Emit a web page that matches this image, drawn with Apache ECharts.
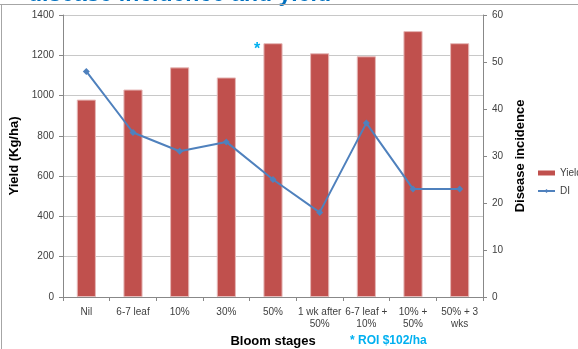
<!DOCTYPE html>
<html><head><meta charset="utf-8">
<script src="https://cdn.jsdelivr.net/npm/echarts@6/dist/echarts.min.js"></script>
<style>html,body{margin:0;padding:0;background:#fff}#c{width:578px;height:349px}</style>
</head><body><div id="c"></div>
<script>
const categories = ['Nil', '6-7 leaf', '10%', '30%', '50%', '1 wk after\n50%', '6-7 leaf +\n10%', '10% +\n50%', '50% + 3\nwks'];
const yieldValues = [980, 1030, 1140, 1090, 1260, 1210, 1195, 1320, 1260];
const diValues = [48, 35, 31, 33, 25, 18, 37, 23, 23];
const yieldTicks = [0, 200, 400, 600, 800, 1000, 1200, 1400];
const diTicks = [0, 10, 20, 30, 40, 50, 60];
const starIndex = 4;

const chart = echarts.init(document.getElementById('c'), null, {renderer: 'canvas'});
const font = 'Liberation Sans, Arial, sans-serif';
chart.setOption({
  animation: false,
  textStyle: {fontFamily: font},
  grid: {left: 63, right: 95, top: 15, bottom: 52, containLabel: false, outerBoundsMode: 'none'},
  legend: {
    orient: 'vertical', left: 537, top: 168, padding: 0, itemGap: 8, itemWidth: 17, itemHeight: 5,
    textStyle: {fontSize: 10, color: '#404040'},
    data: [{name: 'Yield', icon: 'rect', itemStyle: {borderWidth: 0}}, {name: 'DI'}]
  },
  xAxis: {
    type: 'category', data: categories,
    name: 'Bloom stages', nameLocation: 'middle', nameGap: 37,
    nameTextStyle: {fontSize: 13, fontWeight: 'bold', color: '#000'},
    axisLine: {lineStyle: {color: '#888', width: 1}},
    axisTick: {show: true, alignWithLabel: false, length: 4, lineStyle: {color: '#888'}},
    axisLabel: {fontSize: 10, color: '#404040', margin: 9, lineHeight: 12, interval: 0}
  },
  yAxis: [{
    type: 'value', min: yieldTicks[0], max: yieldTicks[yieldTicks.length - 1], interval: 200,
    name: 'Yield (Kg/ha)', nameLocation: 'middle', nameGap: 34, nameRotate: 90,
    nameTextStyle: {fontSize: 13, fontWeight: 'bold', color: '#000'},
    axisLine: {show: true, lineStyle: {color: '#888'}},
    axisTick: {show: true, length: 4, lineStyle: {color: '#888'}},
    axisLabel: {fontSize: 10, color: '#404040', margin: 9, formatter: v => String(v)},
    splitLine: {show: true, lineStyle: {color: '#c8c8c8', width: 1}}
  }, {
    type: 'value', min: diTicks[0], max: diTicks[diTicks.length - 1], interval: 10,
    name: 'Disease incidence', nameLocation: 'middle', nameGap: 24, nameRotate: 90,
    nameTextStyle: {fontSize: 13, fontWeight: 'bold', color: '#000'},
    axisLine: {show: true, lineStyle: {color: '#888'}},
    axisTick: {show: true, length: 4, lineStyle: {color: '#888'}},
    axisLabel: {fontSize: 10, color: '#404040', margin: 9, formatter: v => String(v)},
    splitLine: {show: false}
  }],
  series: [{
    name: 'Yield', type: 'bar', yAxisIndex: 0, barWidth: '41%',
    itemStyle: {color: '#C0504D', borderColor: '#E6B9B8', borderWidth: 1},
    data: yieldValues.map((v, i) => i === starIndex ? {
      value: v,
      label: {show: true, position: 'top', formatter: '*', offset: [-16, 19],
        fontSize: 16, fontWeight: 'bold', color: '#00B0F0'}
    } : v)
  }, {
    name: 'DI', type: 'line', yAxisIndex: 1, data: diValues,
    symbol: 'diamond', symbolSize: 7,
    lineStyle: {color: '#4F81BD', width: 2},
    itemStyle: {color: '#4F81BD'}
  }],
  graphic: [
    {type: 'line', shape: {x1: 0, y1: 4.5, x2: 578, y2: 4.5}, style: {stroke: '#a6a6a6', lineWidth: 1}, z: 1},
    {type: 'line', shape: {x1: 1.5, y1: 4, x2: 1.5, y2: 349}, style: {stroke: '#a6a6a6', lineWidth: 1}, z: 1},
    {type: 'text', left: 28, top: -17,
      style: {text: 'disease incidence and yield', font: 'bold 23px ' + font, fill: '#0070C0'}, z: 0},
    {type: 'text', left: 350, top: 335,
      style: {text: '* ROI $102/ha', font: 'bold 12px ' + font, fill: '#00B0F0'}}
  ]
});
</script></body></html>
